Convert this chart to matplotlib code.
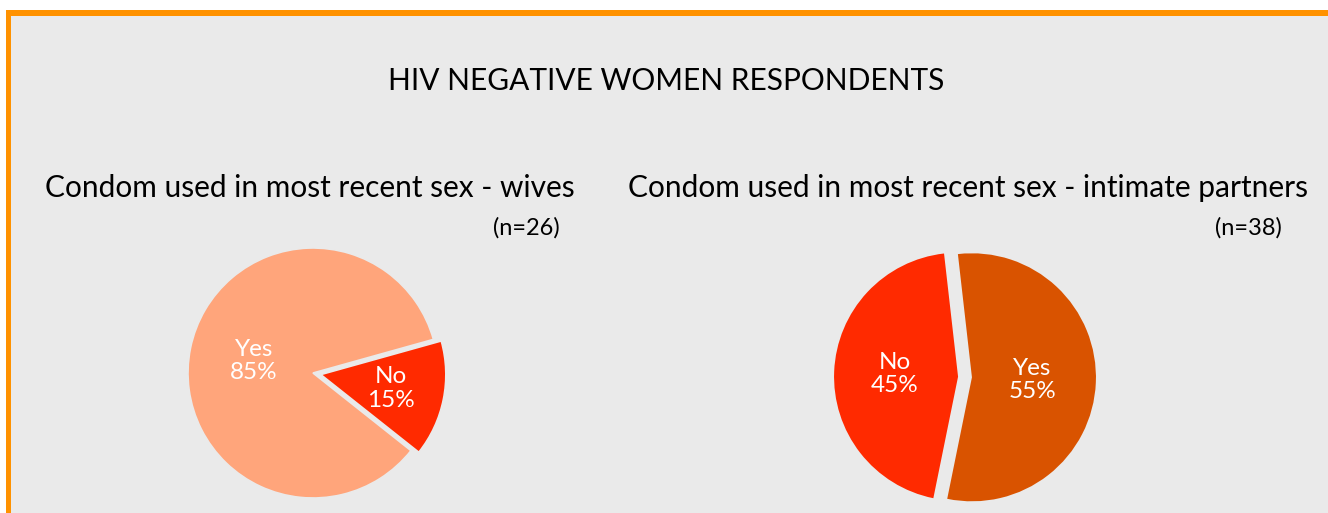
import matplotlib
matplotlib.use("Agg")
import matplotlib.pyplot as plt
from matplotlib.patches import Rectangle
import numpy as np

# condom use at most recent sex, HIV negative women
wives_labels = ["Yes", "No"]
wives_pct = [85, 15]
wives_n = 26

partners_labels = ["No", "Yes"]
partners_pct = [45, 55]
partners_n = 38

W, H = 1328, 513
BG = "#EAEAEA"
BORDER = "#FF9200"
FONT = ["Lato", "DejaVu Sans"]

plt.rcParams["font.family"] = FONT

fig = plt.figure(figsize=(W / 100, H / 100), dpi=100)
fig.patch.set_facecolor("white")


def fx(x):
    return x / W


def fy(y):
    # pixel rows counted from the top
    return 1 - y / H


# frame: orange strip top and left, grey panel inside (kept behind the pies)
fig.patches.append(Rectangle((fx(6), 0), 1, fy(10), transform=fig.transFigure,
                             facecolor=BORDER, edgecolor="none", zorder=-2))
fig.patches.append(Rectangle((fx(11), 0), 1, fy(16), transform=fig.transFigure,
                             facecolor=BG, edgecolor="none", zorder=-1))

fig.text(fx(666), fy(90), "HIV NEGATIVE WOMEN RESPONDENTS", ha="center",
         va="baseline", fontsize=21.5, color="black")


def draw_pie(cx, cy, r, values, labels, colors, start, explode, edge, label_r,
             title, title_x, n, n_x):
    half = 1.1 * r
    ax = fig.add_axes([fx(cx - half), fy(cy + half), 2 * half / W, 2 * half / H])
    wedges, _ = ax.pie(values, colors=colors, startangle=start, explode=explode,
                       radius=1, wedgeprops=dict(linewidth=edge, edgecolor=BG))
    # pie() resets the limits, so fix them afterwards
    ax.set_xlim(-1.1, 1.1)
    ax.set_ylim(-1.1, 1.1)
    ax.set_aspect("equal")
    ax.axis("off")
    for w, lab, v, d in zip(wedges, labels, values, label_r):
        mid = np.deg2rad((w.theta1 + w.theta2) / 2)
        x = w.center[0] + d * np.cos(mid)
        y = w.center[1] + d * np.sin(mid)
        ax.text(x, y, f"{lab}\n{v}%", ha="center", va="center", fontsize=17.5,
                color="white", linespacing=1.15)
    fig.text(fx(title_x), fy(197), title, ha="left", va="baseline", fontsize=21.5)
    fig.text(fx(n_x), fy(235), f"(n={n})", ha="right", va="baseline", fontsize=17)
    return ax


draw_pie(313, 373, 125, wives_pct, wives_labels, ["#FFA57B", "#FF2A00"],
         15.6, [0, 0.064], 1.2, [0.48, 0.57],
         "Condom used in most recent sex - wives", 45, wives_n, 560)

draw_pie(965, 377, 124, partners_pct, partners_labels, ["#FF2A00", "#D95300"],
         96.5, [0.056, 0.056], 0, [0.51, 0.49],
         "Condom used in most recent sex - intimate partners", 628, partners_n, 1282)

fig.savefig("out.png", dpi=100, facecolor=fig.get_facecolor())
